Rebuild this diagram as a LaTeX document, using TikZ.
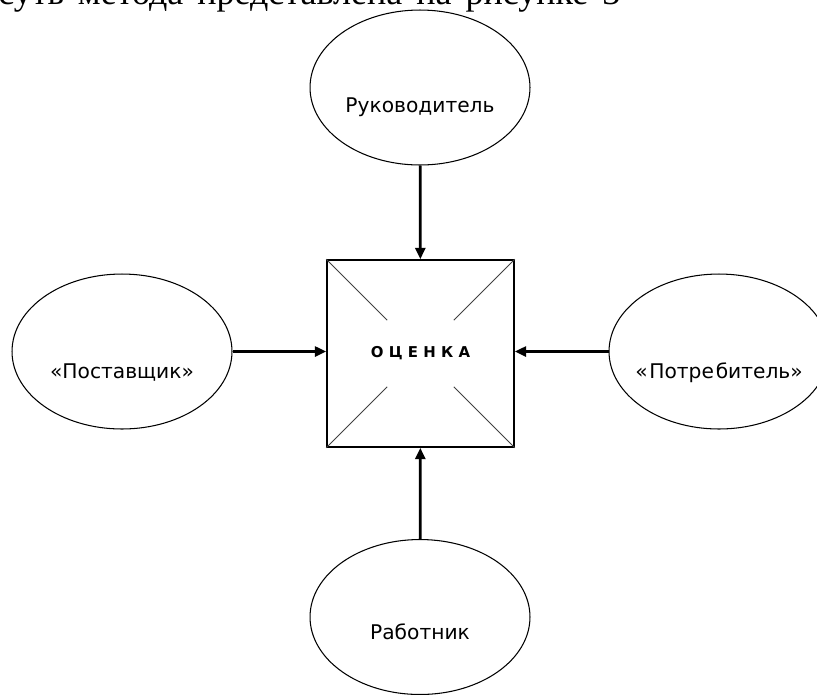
\documentclass[tikz,border=0pt]{standalone}
\usepackage{fontspec}
\setmainfont{Liberation Serif}
\newfontfamily\lblfont{DejaVu Sans}
\newfontfamily\markfont[LetterSpace=35]{DejaVu Sans}
\usetikzlibrary{arrows.meta, shapes.geometric}

\begin{document}
\begin{tikzpicture}[
    % GLOBAL CFG (one unit = one pixel of the page)
    x=0.02cm, y=-0.02cm,
    >={Triangle[length=6.5pt, width=5.7pt]},
    % Styles
    actor/.style={% For the ellipses round the box
        ellipse,
        draw,
        line width=0.6pt,
        minimum width=4.4cm,
        minimum height=3.1cm,
        },
    lbl/.style={% text inside the ellipses
        font=\lblfont\fontsize{11.5}{13}\selectfont,
        },
    target/.style={% the central box
        rectangle,
        draw,
        line width=0.9pt,
        minimum size=3.74cm,
        font=\markfont\bfseries\fontsize{8.5}{10}\selectfont,
        },
    cross/.style={% diagonals in the box
        line width=0.5pt,
        black!75,
        },
    flow/.style={% thick arrows
        ->,
        line width=1.6pt,
        },
    ]

    \useasboundingbox (0,0) rectangle (817,694);
    \clip (0,0) rectangle (817,694);

    % Cut line of the text above
    \node[anchor=base west, inner sep=0pt, font=\fontsize{20.5}{24}\selectfont] (caption) at (-2,4)
        {\makebox[12.44cm][s]{суть метода представлена на рисунке 3}};

    % Draw the ellipses
    \node[actor, label={[lbl, yshift=-0.4cm]center:Руководитель}] (boss) at (420,87.5) {};
    \node[actor, label={[lbl, yshift=-0.42cm]center:«Поставщик»}] (supplier) at (122,351.5) {};
    \node[actor, label={[lbl, yshift=-0.42cm]center:«\kern1pt Потре\kern1pt битель»}] (consumer) at (719,351.5) {};
    \node[actor, label={[lbl, yshift=-0.3cm]center:Работник}] (worker) at (420,617) {};

    % Draw the box
    \node[target] (box) at (420.5,353.5) {ОЦЕНКА};
    \draw[cross] (box.north west) -- ++(61,61);
    \draw[cross] (box.north east) -- ++(-61,61);
    \draw[cross] (box.south west) -- ++(61,-61);
    \draw[cross] (box.south east) -- ++(-61,-61);

    % Arrows into the box
    \draw[flow] (boss) -- (box);
    \draw[flow] (worker) -- (box);
    \draw[flow] (supplier.east) -- (supplier.east -| box.west);
    \draw[flow] (consumer.west) -- (consumer.west -| box.east);

\end{tikzpicture}
\end{document}
